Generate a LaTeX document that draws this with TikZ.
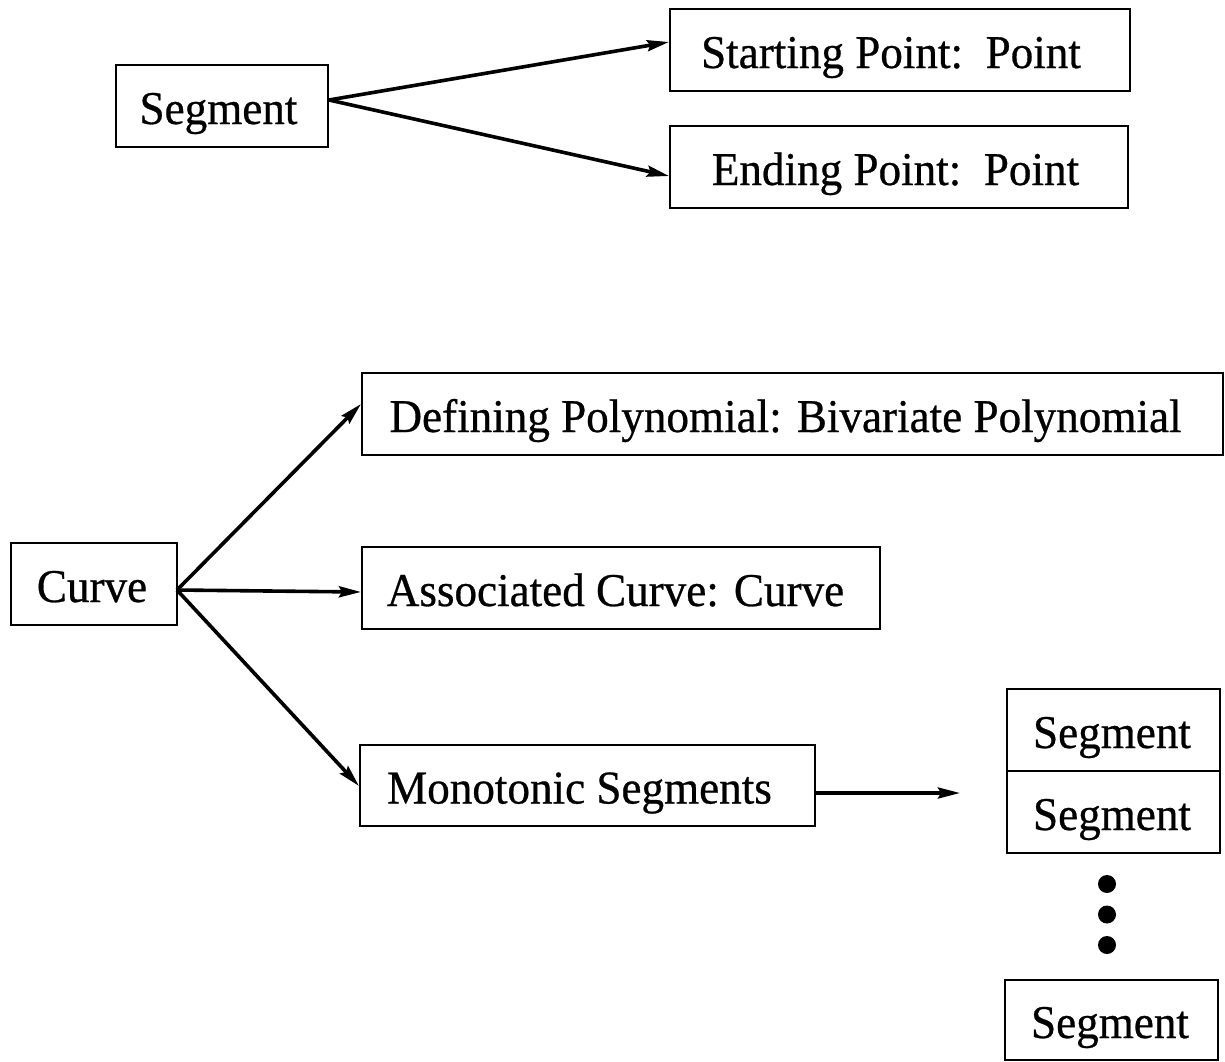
\documentclass[tikz,border=0pt]{standalone}
\usepackage{fontspec}
\setmainfont{Liberation Serif}[FakeBold=0.6,FakeStretch=0.96]
\usetikzlibrary{arrows.meta}
\newcommand\tx[2]{#2\hspace*{#1}}
\begin{document}
\begin{tikzpicture}[x=1pt,y=-1pt,
  box/.style={draw, line width=2pt, inner sep=0pt, text height=36pt, text depth=0pt,
    font=\fontsize{47}{54}\selectfont},
  conn/.style={line width=3.6pt, -{Stealth[length=22pt,width=11pt,inset=3pt]}},
  dot/.style={circle, fill=black, inner sep=0pt, minimum size=18pt}]
\useasboundingbox (0,0) rectangle (1225,1061);
% top part
\node[box, minimum width=212pt, minimum height=82pt] (seg) at (222,106) {\tx{7pt}{Segment}};
\node[box, minimum width=460pt, minimum height=82pt] (start) at (900,50) {\tx{18pt}{Starting Point:\ \ Point}};
\node[box, minimum width=458pt, minimum height=82pt] (end) at (899,167) {\tx{7pt}{Ending Point:\ \ Point}};
\coordinate (sp) at (329,100);
\draw[conn] (sp) -- (start.west |- 0,42);
\draw[conn] (sp) -- (end.west |- 0,176);
% bottom part
\node[box, minimum width=166pt, minimum height=82pt] (curve) at (94,584) {\tx{4pt}{Curve}};
\node[box, minimum width=861pt, minimum height=82pt] (def) at (792.5,414) {\tx{14pt}{Defining Polynomial: Bivariate Polynomial}};
\node[box, minimum width=518pt, minimum height=82pt] (assoc) at (621,588) {\tx{11pt}{Associated Curve: Curve}};
\node[box, minimum width=455pt, minimum height=81pt] (mono) at (587.5,785.5) {\tx{16pt}{Monotonic Segments}};
\coordinate (cp) at (177,590);
\draw[conn] (cp) -- (def.west |- 0,404);
\draw[conn] (cp) -- (assoc.west |- 0,592);
\draw[conn] (cp) -- (mono.west |- 0,786);
% segment list
\node[box, minimum width=213pt, minimum height=82pt] (s1) at (1113.5,730) {\tx{3pt}{Segment}};
\node[box, minimum width=213pt, minimum height=82pt] (s2) at (1113.5,812) {\tx{3pt}{Segment}};
\node[dot] (d1) at (1107,884) {};
\node[dot] (d2) at (1107,914.5) {};
\node[dot] (d3) at (1107,945) {};
\node[box, minimum width=213pt, minimum height=80pt] (s3) at (1111.5,1020) {\tx{3pt}{Segment}};
\coordinate (lend) at (960,793);
\draw[conn] (mono.east |- lend) -- (lend);
\end{tikzpicture}
\end{document}
